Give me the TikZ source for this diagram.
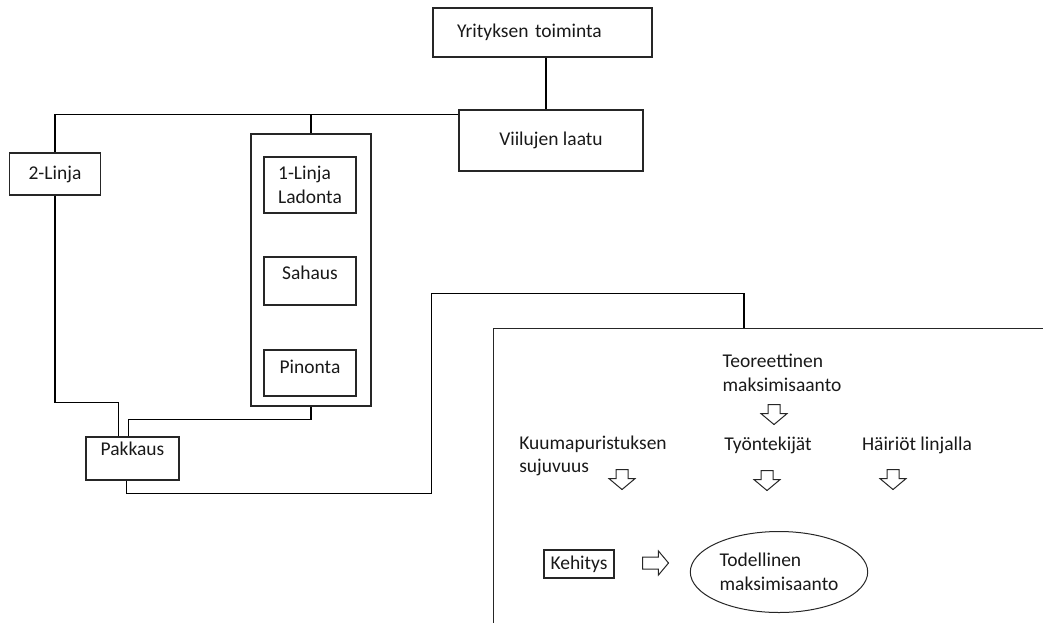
\documentclass[tikz,border=0pt]{standalone}
\usepackage{fontspec}
\setmainfont{Carlito}
\usetikzlibrary{shapes.geometric, shapes.arrows}

\begin{document}
\begin{tikzpicture}[x=1pt, y=-1pt, line width=1.3pt,
    every node/.style={font=\fontsize{19.5}{23.5}\selectfont, text=black!90},
    box/.style={rectangle, draw=black!85, inner sep=0pt, align=center},
    lift/.style={text height=14pt, text depth=#1},
    downarrow/.style={single arrow, draw=black!85, line width=1pt, rotate=-90, minimum height=20pt, minimum width=25pt, inner xsep=0pt, inner ysep=5.5pt, single arrow head extend=7pt, single arrow tip angle=100},
    rightarrow/.style={single arrow, draw=black!85, line width=1pt, minimum height=26pt, minimum width=23pt, inner xsep=0pt, inner ysep=5.5pt, single arrow head extend=6pt, single arrow tip angle=100}
  ]
    \useasboundingbox (0,0) rectangle (1043,622);
    \clip (0,0) rectangle (1043,622);

    \node[box, text width=171pt, inner xsep=24pt, align=left, minimum height=49pt] (yrit) at (542.5,32.5) {Yrityksen toiminta};
    \node[box, minimum width=184pt, minimum height=61pt] (laatu) at (551,140.5) {Viilujen laatu};

    \node[box, minimum width=91pt, minimum height=42pt] (linja2) at (55,174) {2-Linja};
    \node[box, minimum width=120pt, minimum height=272pt] (linja1) at (311,270) {};
    \node[box, align=left, minimum width=92pt, minimum height=56pt] (ladonta) at (310,185) {1-Linja\\Ladonta};
    \node[box, lift=18pt, minimum width=92pt, minimum height=48pt] (sahaus) at (310,281) {Sahaus};
    \node[box, lift=14pt, minimum width=92pt, minimum height=46pt] (pinonta) at (310,373) {Pinonta};
    \node[box, lift=21pt, minimum width=93pt, minimum height=43pt] (pakkaus) at (132.5,458.5) {Pakkaus};

    \node[box, anchor=north west, minimum width=620pt, minimum height=330pt] (kehys) at (493,328) {};

    \coordinate (haara) at ([yshift=-5pt]laatu.north west);
    \draw ([xshift=3.5pt]yrit.south) -- ([xshift=3.5pt]yrit.south |- laatu.north);
    \draw (haara) -| (linja2.north);
    \draw (linja1.north) -- (linja1.north |- haara);
    \draw (linja2.south) -- ++(0,207) -| ([xshift=-14pt]pakkaus.north);
    \draw (linja1.south) -- ++(0,13) -| ([xshift=-4pt]pakkaus.north);
    \draw ([xshift=-6pt]pakkaus.south) -- ++(0,13) -| ++(305,-200) -| ([xshift=251pt]kehys.north west);

    \node[align=left] (teor) at (782,373) {Teoreettinen\\maksimisaanto};
    \node[align=left] (kuuma) at (593,456) {Kuumapuristuksen\\sujuvuus};
    \node (tyont) at (768,445) {Työntekijät};
    \node (hairiot) at (917,445) {Häiriöt linjalla};

    \foreach \n/\x/\y in {nuoli1/774/412, nuoli2/622/477, nuoli3/767/478, nuoli4/893/477}
        \node[downarrow] (\n) at (\x,\y) {};

    \node[box, minimum width=70pt, minimum height=28pt] (kehitys) at (579,564) {Kehitys};
    \node[rightarrow] (nuoli5) at (653,563) {};
    \node[ellipse, draw=black!85, line width=1pt, minimum width=170pt, minimum height=81pt, align=left] (todell) at (779,572) {Todellinen\\maksimisaanto};
\end{tikzpicture}
\end{document}
